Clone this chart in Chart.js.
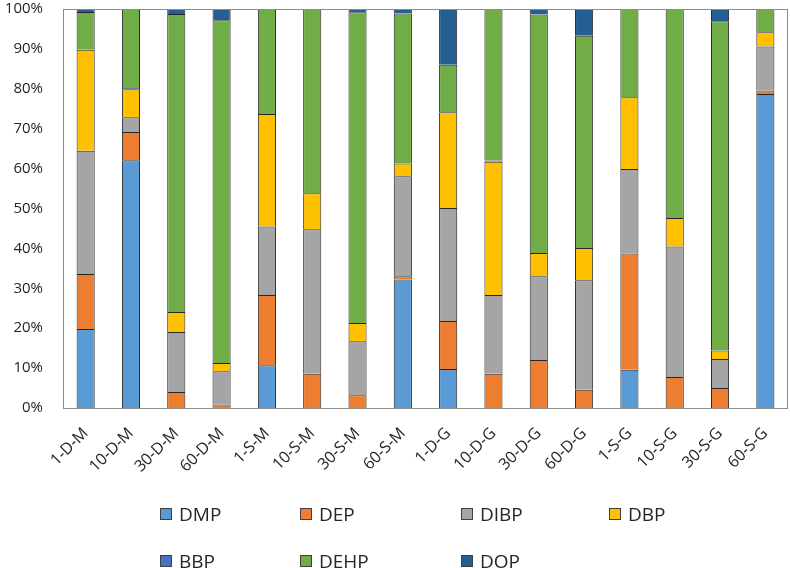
<!DOCTYPE html>
<html lang="en">
  <head>
    <meta charset="UTF-8" />
    <title>Phthalate composition</title>
    <script src="https://cdn.jsdelivr.net/npm/chart.js"></script>
    <style>
      body {
        margin: 0;
        background: #ffffff;
        font-family: "Open Sans", sans-serif;
      }
      .wrap {
        position: relative;
        width: 790px;
        height: 568px;
      }
      #chart {
        position: absolute;
        left: 0;
        top: 0;
      }
      .legend {
        position: absolute;
        left: 0;
        top: 0;
        width: 790px;
        height: 568px;
        pointer-events: none;
      }
      .legend .item {
        position: absolute;
        display: flex;
        align-items: center;
        font-size: 19px;
        color: #262626;
        transform: translateY(-50%);
      }
      .legend .box {
        width: 10px;
        height: 10px;
        border: 1px solid #404040;
        margin-right: 7px;
      }
    </style>
  </head>
  <body>
    <div class="wrap">
      <canvas id="chart" width="790" height="568"></canvas>
      <div class="legend" id="legend"></div>
    </div>
    <script>
      const samples = ["1-D-M", "10-D-M", "30-D-M", "60-D-M", "1-S-M", "10-S-M", "30-S-M", "60-S-M",
                       "1-D-G", "10-D-G", "30-D-G", "60-D-G", "1-S-G", "10-S-G", "30-S-G", "60-S-G"];

      // share of each compound (%)
      const dmp  = [19.8, 62.1, 0, 0, 10.7, 0, 0, 32.2, 9.8, 0, 0, 0, 9.6, 0, 0, 78.7];
      const dep  = [13.8, 7.1, 4.0, 0.85, 17.6, 8.6, 3.2, 0.8, 12.0, 8.6, 12.0, 4.6, 29.1, 7.8, 5.0, 0.9];
      const dibp = [30.9, 3.7, 15.05, 8.35, 17.2, 36.2, 13.5, 25.1, 28.3, 19.7, 21.0, 27.4, 21.2, 32.7, 7.3, 11.0];
      const dbp  = [25.3, 7.0, 5.0, 2.1, 28.2, 9.0, 4.6, 3.2, 24.0, 33.4, 5.85, 8.1, 18.0, 7.1, 2.1, 3.6];
      const bbp  = [0, 0.3, 0, 0, 0, 0, 0, 0, 0, 0.3, 0, 0, 0, 0, 0, 0];
      const dehp = [9.45, 19.8, 74.7, 85.85, 26.3, 46.2, 77.9, 37.6, 11.9, 38.0, 59.75, 53.2, 22.1, 52.4, 82.5, 5.8];
      const dop  = [0.75, 0, 1.25, 2.85, 0, 0, 0.8, 1.1, 14.0, 0, 1.4, 6.7, 0, 0, 3.1, 0];

      const yTicks = [0, 10, 20, 30, 40, 50, 60, 70, 80, 90, 100];

      const series = [
        { label: "DMP", data: dmp, color: "#5B9BD5" },
        { label: "DEP", data: dep, color: "#ED7D31" },
        { label: "DIBP", data: dibp, color: "#A5A5A5" },
        { label: "DBP", data: dbp, color: "#FFC000" },
        { label: "BBP", data: bbp, color: "#4472C4" },
        { label: "DEHP", data: dehp, color: "#70AD47" },
        { label: "DOP", data: dop, color: "#255E91" }
      ];

      // grey frame round the plot area
      const plotFrame = {
        id: "plotFrame",
        afterDraw(chart) {
          const a = chart.chartArea;
          const ctx = chart.ctx;
          ctx.save();
          ctx.strokeStyle = "#8c8c8c";
          ctx.lineWidth = 1;
          ctx.strokeRect(Math.round(a.left) + 0.5, Math.round(a.top) + 0.5,
                         Math.round(a.right - a.left) - 1, Math.round(a.bottom - a.top));
          ctx.restore();
        }
      };

      const chart = new Chart(document.getElementById("chart"), {
        type: "bar",
        data: {
          labels: samples,
          datasets: series.map(s => ({
            label: s.label,
            data: s.data,
            backgroundColor: s.color,
            borderColor: "#262626",
            borderWidth: { top: 1, left: 1, right: 1, bottom: 0 },
            borderSkipped: false,
            categoryPercentage: 1,
            barPercentage: 0.4
          }))
        },
        options: {
          responsive: false,
          animation: false,
          layout: { padding: { top: 9, right: 2, left: 0, bottom: 0 } },
          plugins: {
            legend: { display: false },
            tooltip: { enabled: false }
          },
          scales: {
            x: {
              stacked: true,
              grid: { display: false, drawTicks: false },
              border: { display: false },
              ticks: {
                color: "#262626",
                font: { family: "Open Sans", size: 16 },
                minRotation: 45,
                maxRotation: 45,
                padding: 16,
                autoSkip: false
              },
              afterFit: scale => {
                scale.height = 160;
                scale.paddingLeft = 0;
                scale.paddingRight = 0;
              }
            },
            y: {
              stacked: true,
              min: 0,
              max: 100,
              grid: { display: false, drawTicks: false },
              border: { display: false },
              afterBuildTicks: scale => { scale.ticks = yTicks.map(v => ({ value: v })); },
              ticks: {
                color: "#262626",
                font: { family: "Open Sans", size: 15 },
                padding: 20,
                callback: v => v + "%"
              },
              afterFit: scale => {
                scale.width = 63;
                scale.paddingTop = 0;
                scale.paddingBottom = 0;
              }
            }
          }
        },
        plugins: [plotFrame]
      });

      // legend laid out like the original: 4 columns, 2 rows
      const colX = [160, 300, 461, 609];
      const rowY = [514, 561];
      const legend = document.getElementById("legend");
      chart.data.datasets.forEach((ds, i) => {
        const item = document.createElement("div");
        item.className = "item";
        item.style.left = colX[i % 4] + "px";
        item.style.top = rowY[Math.floor(i / 4)] + "px";
        const box = document.createElement("span");
        box.className = "box";
        box.style.background = ds.backgroundColor;
        item.appendChild(box);
        item.appendChild(document.createTextNode(ds.label));
        legend.appendChild(item);
      });
    </script>
  </body>
</html>
